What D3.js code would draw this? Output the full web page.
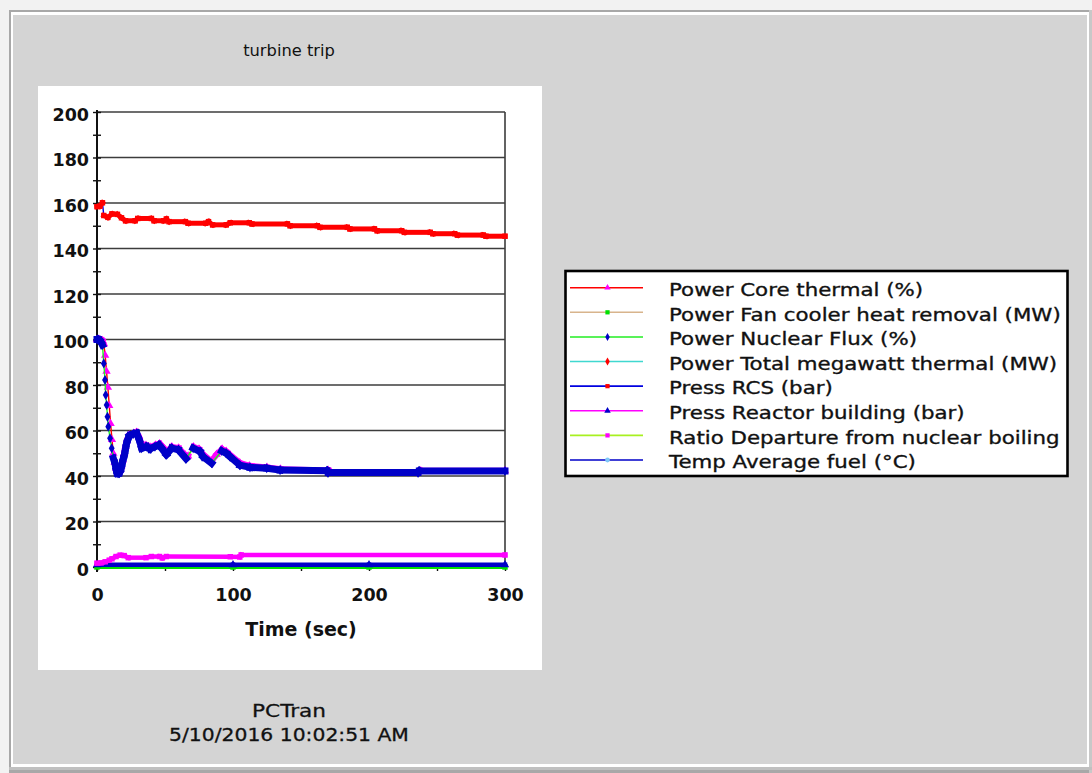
<!DOCTYPE html>
<html>
<head>
<meta charset="utf-8">
<script src="https://cdn.jsdelivr.net/npm/d3@7"></script>
<style>
  html, body { margin: 0; padding: 0; background: #f2f2f2; }
  svg { display: block; }
</style>
</head>
<body>
<svg id="chart" width="1092" height="773"></svg>
<script>
// ---- Texts -------------------------------------------------------------
const titleText = "turbine trip";
const footerLines = ["PCTran", "5/10/2016 10:02:51 AM"];
const xAxisTitle = "Time (sec)";
const xTickLabels = [0, 100, 200, 300];
const yTickLabels = [0, 20, 40, 60, 80, 100, 120, 140, 160, 180, 200];

// ---- Series values: [time (sec), value] --------------------------------
const pressRcs = [
  [0, 158.4], [2, 158.6], [4, 160.1], [5, 154.5], [8, 153.7], [11, 155.2],
  [15, 155.0], [18, 153.5], [21, 152.2], [28, 152.2], [30, 153.2], [40, 153.2],
  [42, 152.2], [49, 152.2], [51, 153.0], [53, 151.8], [65, 151.8], [67, 151.1],
  [80, 151.1], [82, 151.8], [85, 150.4], [95, 150.4], [98, 151.3], [112, 151.3],
  [114, 150.8], [140, 150.8], [142, 150.0], [162, 150.0], [164, 149.3],
  [184, 149.3], [186, 148.6], [204, 148.6], [206, 147.8], [224, 147.8],
  [226, 147.1], [245, 147.1], [247, 146.5], [263, 146.5], [265, 145.9],
  [284, 145.9], [286, 145.4], [300, 145.4]
];

const nuclearFlux = [
  [0, 100], [1, 100], [2, 99.6], [3, 98.8], [4, 97.6], [5, 89.5], [5.9, 82.2],
  [6.4, 75.6], [7.1, 71.2], [7.7, 66], [8.3, 61.7], [9.6, 56.6], [10.8, 52.2],
  [12, 47.8], [13.2, 45.6], [14.2, 42.5], [14.9, 41.2], [16, 41.2], [16.9, 41.9],
  [17.8, 43.5], [18.6, 45.6], [19.3, 47.5], [20.1, 49.2], [21, 52], [21.8, 54.4],
  [22.8, 56.2], [23.8, 57.6], [26.7, 58.5], [29.2, 58.8], [31.1, 55.8],
  [32.8, 52.2], [36.5, 52.9], [39, 51.9], [42.6, 52.9], [45.5, 53.6],
  [47.6, 52.2], [51, 49.4], [55, 52.2], [59.8, 51.5], [65.5, 47.6], [70.7, 52.2],
  [75.7, 50.7], [78, 48.5], [84.3, 45.6], [91.7, 51.0], [95, 50], [97.8, 48.5],
  [105, 44.8], [112.5, 43.8], [124.8, 43.4], [134.6, 42.6], [169, 42.3],
  [170, 41.5], [236, 41.5], [237, 42.2], [300, 42.2]
];

const coreThermal = [
  [0, 100], [2, 100], [4, 99.5], [5, 98], [6, 93], [7, 86], [8, 79], [9, 71],
  [10, 63], [11, 56], [12, 50], [13, 46], [14, 43.5], [15, 42], [16, 41.8],
  [17, 42.5], [18, 44.5], [19, 47], [20, 50], [21, 53], [22, 55.5], [24, 58],
  [27, 58.8], [29, 59.2], [31, 57], [33, 53.5], [36, 53.5], [39, 52.7],
  [43, 53.6], [46, 54.2], [48, 53], [51, 50.8], [55, 52.8], [60, 52.3],
  [65, 49.2], [67, 48.8], [71, 52.8], [75, 51.8], [78, 49.5], [84, 46.5],
  [88, 49.5], [92, 51.8], [95, 50.8], [98, 49.2], [105, 45.8], [112, 44.5],
  [125, 43.8], [135, 43], [170, 42.5], [172, 41.7], [236, 41.7], [238, 42.3],
  [300, 42.3]
];

const fanCooler = [[0, 0], [100, 0], [200, 0], [300, 0]];

const pressReactorBuilding = [[0, 1.0], [100, 1.0], [200, 1.0], [300, 1.0]];

const dnbRatio = [
  [0, 1.7], [3, 1.8], [6, 2.3], [9, 3.0], [11, 3.6], [14, 4.6], [17, 5.2],
  [20, 5.0], [23, 4.1], [36, 4.1], [40, 4.6], [46, 4.6], [48, 4.0], [51, 4.6],
  [98, 4.5], [105, 4.4], [106, 5.3], [300, 5.3]
];

// ---- Legend entries (same order as the legend box) ---------------------
const seriesNames = [
  "Power Core thermal (%)",
  "Power Fan cooler heat removal (MW)",
  "Power Nuclear Flux (%)",
  "Power Total megawatt thermal (MW)",
  "Press RCS (bar)",
  "Press Reactor building (bar)",
  "Ratio Departure from nuclear boiling",
  "Temp Average fuel (\u00B0C)"
];
// Total megawatt thermal and average fuel temperature lie above the 0-200 scale
const seriesData = [coreThermal, fanCooler, nuclearFlux, null, pressRcs,
                    pressReactorBuilding, dnbRatio, null];
const lineColors = ["#ff0000", "#d8b48c", "#22ee22", "#40d8d0", "#0000e0",
                    "#ff00ff", "#a8f020", "#0000c8"];
const markerColors = ["#ff00ff", "#00e000", "#0000c8", "#ff0000", "#ff0000",
                      "#0000c8", "#ff00ff", "#80c8f8"];
const markerShapes = [d3.symbolTriangle, d3.symbolSquare, d3.symbolDiamond,
                      d3.symbolDiamond, d3.symbolSquare, d3.symbolTriangle,
                      d3.symbolSquare, d3.symbolCircle];
// drawing order in the plot (lowest first)
const drawOrder = [1, 5, 6, 0, 2, 4];
const trailWidths = [6, 4, 7, 5, 5, 4.5, 4.5, 5];

// ---- Layout --------------------------------------------------------------
const svg = d3.select("#chart");
const x = d3.scaleLinear().domain([0, 300]).range([97, 505]);
const y = d3.scaleLinear().domain([0, 200]).range([567, 112]);

const SANS = "'DejaVu Sans', Verdana, sans-serif";

function wideText(parent, px, py, str, sx, anchor) {
  return parent.append("text")
    .attr("transform", `translate(${px},${py}) scale(${sx},1)`)
    .attr("text-anchor", anchor || "start")
    .text(str);
}

// window frame
svg.append("rect").attr("x", 0).attr("y", 0).attr("width", 1092).attr("height", 773).attr("fill", "#f2f2f2");
svg.append("rect").attr("x", 9).attr("y", 10).attr("width", 1083).attr("height", 763).attr("fill", "#a8a8a8");
svg.append("rect").attr("x", 1089).attr("y", 10).attr("width", 3).attr("height", 763).attr("fill", "#c8c8c8");
svg.append("rect").attr("x", 9).attr("y", 767).attr("width", 1083).attr("height", 3).attr("fill", "#c0c0c0");
svg.append("rect").attr("x", 11).attr("y", 12).attr("width", 1078).attr("height", 755).attr("fill", "#ffffff");
svg.append("rect").attr("x", 13).attr("y", 15).attr("width", 1074).attr("height", 749).attr("fill", "#d4d4d4");

// title
const titleG = svg.append("g").attr("font-family", SANS).attr("font-size", 16.3).attr("fill", "#111");
wideText(titleG, 289, 56, titleText, 1.0, "middle");

// white chart panel
svg.append("rect").attr("x", 38).attr("y", 86).attr("width", 504).attr("height", 584).attr("fill", "#ffffff");

// horizontal gridlines and right border
const grid = svg.append("g");
grid.selectAll("line.h").data(yTickLabels).join("line")
  .attr("x1", x(0)).attr("x2", x(300))
  .attr("y1", d => y(d)).attr("y2", d => y(d))
  .attr("stroke", "#3c3c3c").attr("stroke-width", 1.6);
grid.append("line")
  .attr("x1", x(300)).attr("x2", x(300)).attr("y1", y(200)).attr("y2", y(0))
  .attr("stroke", "#3c3c3c").attr("stroke-width", 1.6);

// y axis
const yAxis = d3.axisLeft(y)
  .tickValues(d3.range(0, 201, 10))
  .tickSizeInner(4).tickSizeOuter(0).tickPadding(4)
  .tickFormat(d => (yTickLabels.includes(d) ? d : ""));
const yG = svg.append("g").attr("transform", `translate(${x(0)},0)`).call(yAxis);
yG.select(".domain").remove();
yG.selectAll(".tick line").attr("x1", 4).attr("stroke", "#111").attr("stroke-width", 1.4);
yG.selectAll(".tick text")
  .attr("font-family", SANS).attr("font-weight", "bold").attr("font-size", 17.5)
  .attr("fill", "#111").attr("x", -8).attr("dy", "0.47em");
svg.append("line").attr("x1", x(0)).attr("x2", x(0)).attr("y1", 110).attr("y2", 572)
  .attr("stroke", "#111").attr("stroke-width", 2);

// x axis
const xAxis = d3.axisBottom(x)
  .tickValues(d3.range(0, 301, 50))
  .tickSizeInner(4).tickSizeOuter(0)
  .tickFormat(d => (xTickLabels.includes(d) ? d : ""));
const xG = svg.append("g").attr("transform", `translate(0,${y(0)})`).call(xAxis);
xG.select(".domain").remove();
xG.selectAll(".tick line").attr("stroke", "#111").attr("stroke-width", 1.4);
xG.selectAll(".tick text")
  .attr("font-family", SANS).attr("font-weight", "bold").attr("font-size", 17.5)
  .attr("fill", "#111").attr("y", 33.5).attr("dy", 0);

// x axis title
svg.append("text")
  .attr("x", (x(0) + x(300)) / 2).attr("y", 636)
  .attr("text-anchor", "middle")
  .attr("font-family", SANS).attr("font-weight", "bold").attr("font-size", 19)
  .attr("fill", "#111").text(xAxisTitle);

// ---- Series ------------------------------------------------------------
const lineGen = d3.line().x(d => x(d[0])).y(d => y(d[1]));
const plotG = svg.append("g");

drawOrder.forEach(i => {
  const data = seriesData[i];
  if (!data) return;
  const g = plotG.append("g");
  // connecting line
  g.append("path").attr("d", lineGen(data))
    .attr("fill", "none").attr("stroke", lineColors[i]).attr("stroke-width", 1.4);
  // where samples crowd together the markers merge into a solid trail
  const segs = d3.pairs(data).filter(([a, b]) => Math.abs(y(a[1]) - y(b[1])) < 9);
  g.selectAll("line.trail").data(segs).join("line")
    .attr("x1", d => x(d[0][0])).attr("y1", d => y(d[0][1]))
    .attr("x2", d => x(d[1][0])).attr("y2", d => y(d[1][1]))
    .attr("stroke", markerColors[i]).attr("stroke-width", trailWidths[i])
    .attr("stroke-linecap", "square");
  // markers
  g.selectAll("path.mk").data(data).join("path")
    .attr("d", d3.symbol(markerShapes[i], 30))
    .attr("transform", d => `translate(${x(d[0])},${y(d[1])})`)
    .attr("fill", markerColors[i]);
});

// ---- Legend --------------------------------------------------------------
const legend = svg.append("g");
legend.append("rect").attr("x", 565.5).attr("y", 271).attr("width", 502).attr("height", 205)
  .attr("fill", "#ffffff").attr("stroke", "#000").attr("stroke-width", 2.6);
const legendRowY = d3.scalePoint().domain(d3.range(seriesNames.length)).range([287.7, 460]);
const rows = legend.selectAll("g.row").data(seriesNames).join("g")
  .attr("transform", (d, i) => `translate(0,${legendRowY(i)})`);
rows.append("line").attr("x1", 570).attr("x2", 643).attr("y1", 0).attr("y2", 0)
  .attr("stroke", (d, i) => lineColors[i]).attr("stroke-width", 1.6);
rows.append("path")
  .attr("d", (d, i) => d3.symbol(markerShapes[i], 18)())
  .attr("transform", "translate(607.5,0)")
  .attr("fill", (d, i) => markerColors[i]);
rows.each(function (d) {
  const t = wideText(d3.select(this), 669, 8.3, d, 1.185, "start");
  t.attr("font-family", SANS).attr("font-size", 18).attr("fill", "#111")
    .attr("stroke", "#111").attr("stroke-width", 0.35);
});

// ---- Footer --------------------------------------------------------------
const footG = svg.append("g").attr("font-family", SANS).attr("font-size", 18)
  .attr("fill", "#111").attr("stroke", "#111").attr("stroke-width", 0.3);
wideText(footG, 289, 716.5, footerLines[0], 1.2, "middle");
wideText(footG, 289, 741, footerLines[1], 1.13, "middle");
</script>
</body>
</html>
